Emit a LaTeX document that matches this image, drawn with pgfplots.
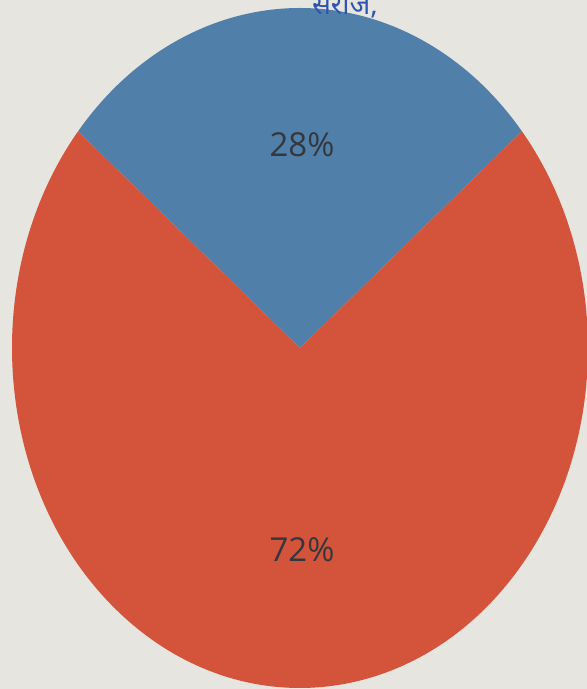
\documentclass[border=0pt]{standalone}
\usepackage{pgfplots}
\pgfplotsset{compat=1.18}
\usepackage{pgfplotstable}
\usepackage{fontspec}
\setmainfont{Open Sans}
\newfontfamily\devfont[Script=Devanagari]{Noto Sans}

\definecolor{paper}{RGB}{231,229,224}
\definecolor{sliceblue}{RGB}{80,128,170}
\definecolor{slicered}{RGB}{212,84,59}
\definecolor{labelgray}{RGB}{52,56,62}
\definecolor{inkblue}{RGB}{45,85,175}

% pie shares (percent)
\pgfplotstableread{
label value
blue  28
red   72
}\piedata

\pgfplotstablegetelem{0}{value}\of\piedata
\let\vblue\pgfplotsretval
\pgfplotstablegetelem{1}{value}\of\piedata
\let\vred\pgfplotsretval
% blue slice is centred on the top of the pie
\pgfmathsetmacro\bstart{90-\vblue*1.8}
\pgfmathsetmacro\bend{90+\vblue*1.8}
\pgfmathsetmacro\rend{\bend+\vred*3.6}

\begin{document}
\begin{tikzpicture}
\begin{axis}[
    scale only axis,
    width=293.5pt,
    height=344.5pt,
    xmin=0, xmax=587,
    ymin=0, ymax=689,
    hide axis,
    clip=true,
    axis background/.style={fill=paper},
]
% pie centre at (300,341), radii 288 x 340 units (0.5pt each)
\fill[sliceblue] (axis cs:300,341) -- ++(\bstart:144pt and 170pt)
    arc[start angle=\bstart, end angle=\bend, x radius=144pt, y radius=170pt] -- cycle;
\fill[slicered] (axis cs:300,341) -- ++(\bend:144pt and 170pt)
    arc[start angle=\bend, end angle=\rend, x radius=144pt, y radius=170pt] -- cycle;

\node[text=labelgray, font=\fontsize{16.5}{19}\selectfont] at (axis cs:302,544) {\vblue\%};
\node[text=labelgray, font=\fontsize{16.5}{19}\selectfont] at (axis cs:302,139) {\vred\%};

\node[text=inkblue, font=\devfont\bfseries\fontsize{14}{16}\selectfont, anchor=base]
    at (axis cs:345,674) {सरोज,};
\end{axis}
\end{tikzpicture}
\end{document}
